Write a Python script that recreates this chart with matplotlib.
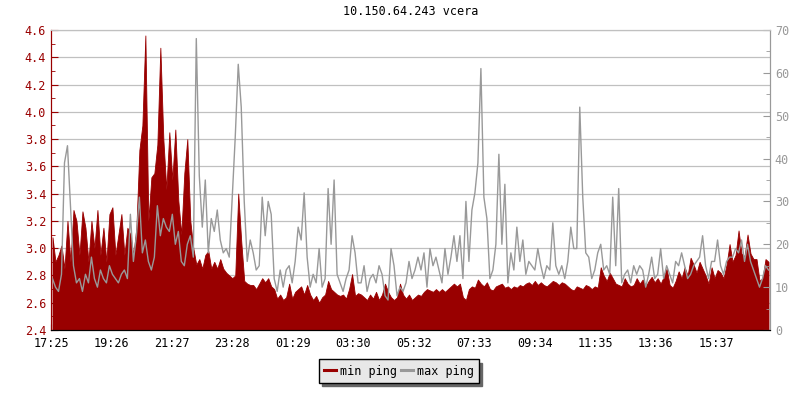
import numpy as np
import matplotlib
matplotlib.use("Agg")
import matplotlib.pyplot as plt
from matplotlib.lines import Line2D
from matplotlib.ticker import MultipleLocator

plt.rcParams['font.family'] = ['DejaVu Sans Mono']

title = "10.150.64.243 vcera"
time_labels = ["17:25", "19:26", "21:27", "23:28", "01:29", "03:30",
               "05:32", "07:33", "09:34", "11:35", "13:36", "15:37"]
step_min = 6   # one sample every 6 minutes, 24 h shown

# min ping (left axis)
min_ping = [
    # 17:25 - 19:45
    3.08, 2.90, 2.95, 3.02, 2.85, 3.20, 2.90, 3.28, 3.20, 2.95,
    3.27, 3.15, 2.90, 3.20, 3.00, 3.28, 2.95, 3.15, 2.90, 3.25,
    3.30, 2.95, 3.10, 3.25, 2.95, 3.15, 3.10, 2.95, 3.15, 3.72,
    3.90, 4.56, 3.20, 3.52, 3.55,
    # 20:55 - 00:15
    3.76, 4.47, 3.80, 3.43, 3.85, 3.50, 3.87, 3.35, 3.10, 3.55,
    3.80, 3.20, 3.00, 2.88, 2.92, 2.85, 2.95, 2.98, 2.85, 2.90,
    2.85, 2.92, 2.85, 2.82, 2.80, 2.78, 2.80, 3.40, 3.05, 2.76,
    2.74, 2.73, 2.73, 2.70,
    # 00:19 - 03:37
    2.74, 2.78, 2.75, 2.78, 2.72, 2.70, 2.63, 2.66, 2.62, 2.64,
    2.74, 2.63, 2.68, 2.70, 2.72, 2.66, 2.73, 2.66, 2.62, 2.65,
    2.60, 2.64, 2.66, 2.76, 2.70, 2.68, 2.66, 2.65, 2.66, 2.63,
    2.70, 2.81, 2.65, 2.67,
    # 03:43 - 06:55
    2.66, 2.64, 2.62, 2.66, 2.63, 2.68, 2.62, 2.66, 2.74, 2.68,
    2.64, 2.62, 2.64, 2.74, 2.66, 2.63, 2.66, 2.62, 2.64, 2.66,
    2.65, 2.68, 2.70, 2.69, 2.68, 2.70, 2.68, 2.70, 2.68, 2.70,
    2.72, 2.74, 2.72, 2.74,
    # 07:07 - 10:31
    2.64, 2.62, 2.70, 2.72, 2.71, 2.77, 2.74, 2.72, 2.75, 2.70,
    2.69, 2.72, 2.73, 2.74, 2.71, 2.72, 2.70, 2.72, 2.71, 2.73,
    2.72, 2.74, 2.75, 2.73, 2.76, 2.73, 2.75, 2.73, 2.72, 2.74,
    2.76, 2.75, 2.73, 2.75, 2.74,
    # 10:37 - 13:55
    2.72, 2.70, 2.69, 2.72, 2.71, 2.70, 2.73, 2.72, 2.70, 2.72,
    2.71, 2.86, 2.80, 2.76, 2.82, 2.78, 2.74, 2.73, 2.72, 2.78,
    2.74, 2.72, 2.73, 2.78, 2.74, 2.77, 2.72, 2.76, 2.79, 2.75,
    2.78, 2.74, 2.79, 2.85,
    # 14:01 - 17:19
    2.73, 2.71, 2.76, 2.83, 2.78, 2.86, 2.80, 2.93, 2.88, 2.82,
    2.90, 2.85, 2.80, 2.74, 2.86, 2.78, 2.84, 2.82, 2.78, 2.88,
    3.03, 2.90, 2.95, 3.13, 2.96, 2.94, 3.10, 2.96, 2.92, 2.92,
    2.76, 2.78, 2.92, 2.90,
]

# max ping (right axis)
max_ping = [
    12, 10, 9, 13, 39, 43, 29, 15, 11, 12,
    9, 13, 11, 17, 12, 10, 14, 12, 11, 15,
    13, 12, 11, 13, 14, 12, 27, 16, 22, 31,
    18, 21, 16, 14, 17,
    29, 22, 26, 24, 23, 27, 20, 23, 16, 15,
    20, 22, 17, 68, 36, 24, 35, 18, 26, 23,
    28, 21, 18, 19, 17, 31, 45, 62, 52, 30,
    16, 21, 18, 14,
    15, 31, 22, 30, 27, 12, 9, 14, 10, 14,
    15, 11, 16, 24, 21, 32, 17, 10, 13, 11,
    19, 10, 12, 33, 20, 35, 13, 11, 9, 12,
    14, 22, 18, 11,
    11, 15, 9, 12, 13, 11, 15, 13, 8, 7,
    19, 15, 8, 10, 9, 11, 16, 12, 14, 17,
    14, 18, 10, 19, 15, 17, 14, 11, 19, 13,
    17, 22, 16, 22,
    12, 30, 16, 28, 32, 39, 61, 31, 26, 12,
    14, 20, 41, 20, 34, 11, 18, 14, 24, 16,
    21, 13, 16, 15, 14, 19, 15, 12, 15, 14,
    25, 15, 13, 15, 12,
    16, 24, 19, 19, 52, 31, 18, 17, 12, 14,
    18, 20, 14, 15, 13, 31, 15, 33, 11, 13,
    14, 11, 15, 13, 15, 14, 10, 13, 17, 12,
    13, 19, 12, 15,
    13, 11, 16, 15, 18, 15, 12, 13, 15, 16,
    17, 22, 15, 12, 16, 16, 21, 15, 13, 16,
    17, 17, 19, 18, 21, 16, 20, 16, 14, 12,
    10, 12, 15, 14,
]

RED = '#990000'
GRAY = '#999999'

t = np.arange(len(min_ping)) * step_min + step_min / 2

fig = plt.figure(figsize=(8, 4), dpi=100)
ax = fig.add_axes([51 / 800, 70 / 400, 719 / 800, 300 / 400])
ax2 = ax.twinx()

ax.fill_between(t, 2.4, min_ping, color=RED, linewidth=0.6, edgecolor=RED)
ax2.plot(t, max_ping, color=GRAY, lw=1.0)

ax.set_xlim(0, 1440)
ax.set_ylim(2.4, 4.6)
ax2.set_ylim(0, 70)

# x ticks at the labelled clock times
start = int(time_labels[0][:2]) * 60 + int(time_labels[0][3:])
tick_pos = []
for lab in time_labels:
    m = int(lab[:2]) * 60 + int(lab[3:])
    tick_pos.append((m - start) % 1440)
ax.set_xticks(tick_pos)
ax.set_xticklabels(time_labels)

ax.yaxis.set_major_locator(MultipleLocator(0.2))
ax.yaxis.set_minor_locator(MultipleLocator(0.1))
ax.yaxis.set_major_formatter(plt.FormatStrFormatter('%.1f'))
ax2.yaxis.set_major_locator(MultipleLocator(10))
ax2.yaxis.set_minor_locator(MultipleLocator(5))

ax.grid(axis='y', color='#c0c0c0', lw=0.9)
ax.set_axisbelow(True)

ax.tick_params(axis='x', direction='in', length=4, color='black', labelsize=8.5, pad=5)
ax.tick_params(axis='y', which='major', direction='in', length=5, color=RED,
               labelcolor=RED, labelsize=8.5)
ax.tick_params(axis='y', which='minor', direction='in', length=3, color=RED)
ax2.tick_params(axis='y', which='major', direction='in', length=5, color=GRAY,
                labelcolor=GRAY, labelsize=8.5)
ax2.tick_params(axis='y', which='minor', direction='in', length=3, color=GRAY)

for a in (ax, ax2):
    a.spines['left'].set_color(RED)
    a.spines['right'].set_color(GRAY)
    a.spines['top'].set_color('#c0c0c0')
    a.spines['bottom'].set_color('black')

ax.set_title(title, fontsize=8.5, pad=11)

handles = [Line2D([], [], color=RED, lw=2.2), Line2D([], [], color=GRAY, lw=2.2)]
leg = fig.legend(handles, ['min ping', 'max ping'], loc='center',
                 bbox_to_anchor=(399 / 800, 1 - 371 / 400), ncol=2,
                 fontsize=8.5, fancybox=False, framealpha=1,
                 facecolor='#e8e8e8', edgecolor='black',
                 handlelength=1.0, handletextpad=0.3, columnspacing=0.4,
                 borderpad=0.45, borderaxespad=0,
                 shadow={'ox': 2.5, 'oy': -2.5, 'color': '#666666', 'alpha': 1})
leg.get_frame().set_linewidth(1.0)

fig.savefig('out.png', dpi=100)
